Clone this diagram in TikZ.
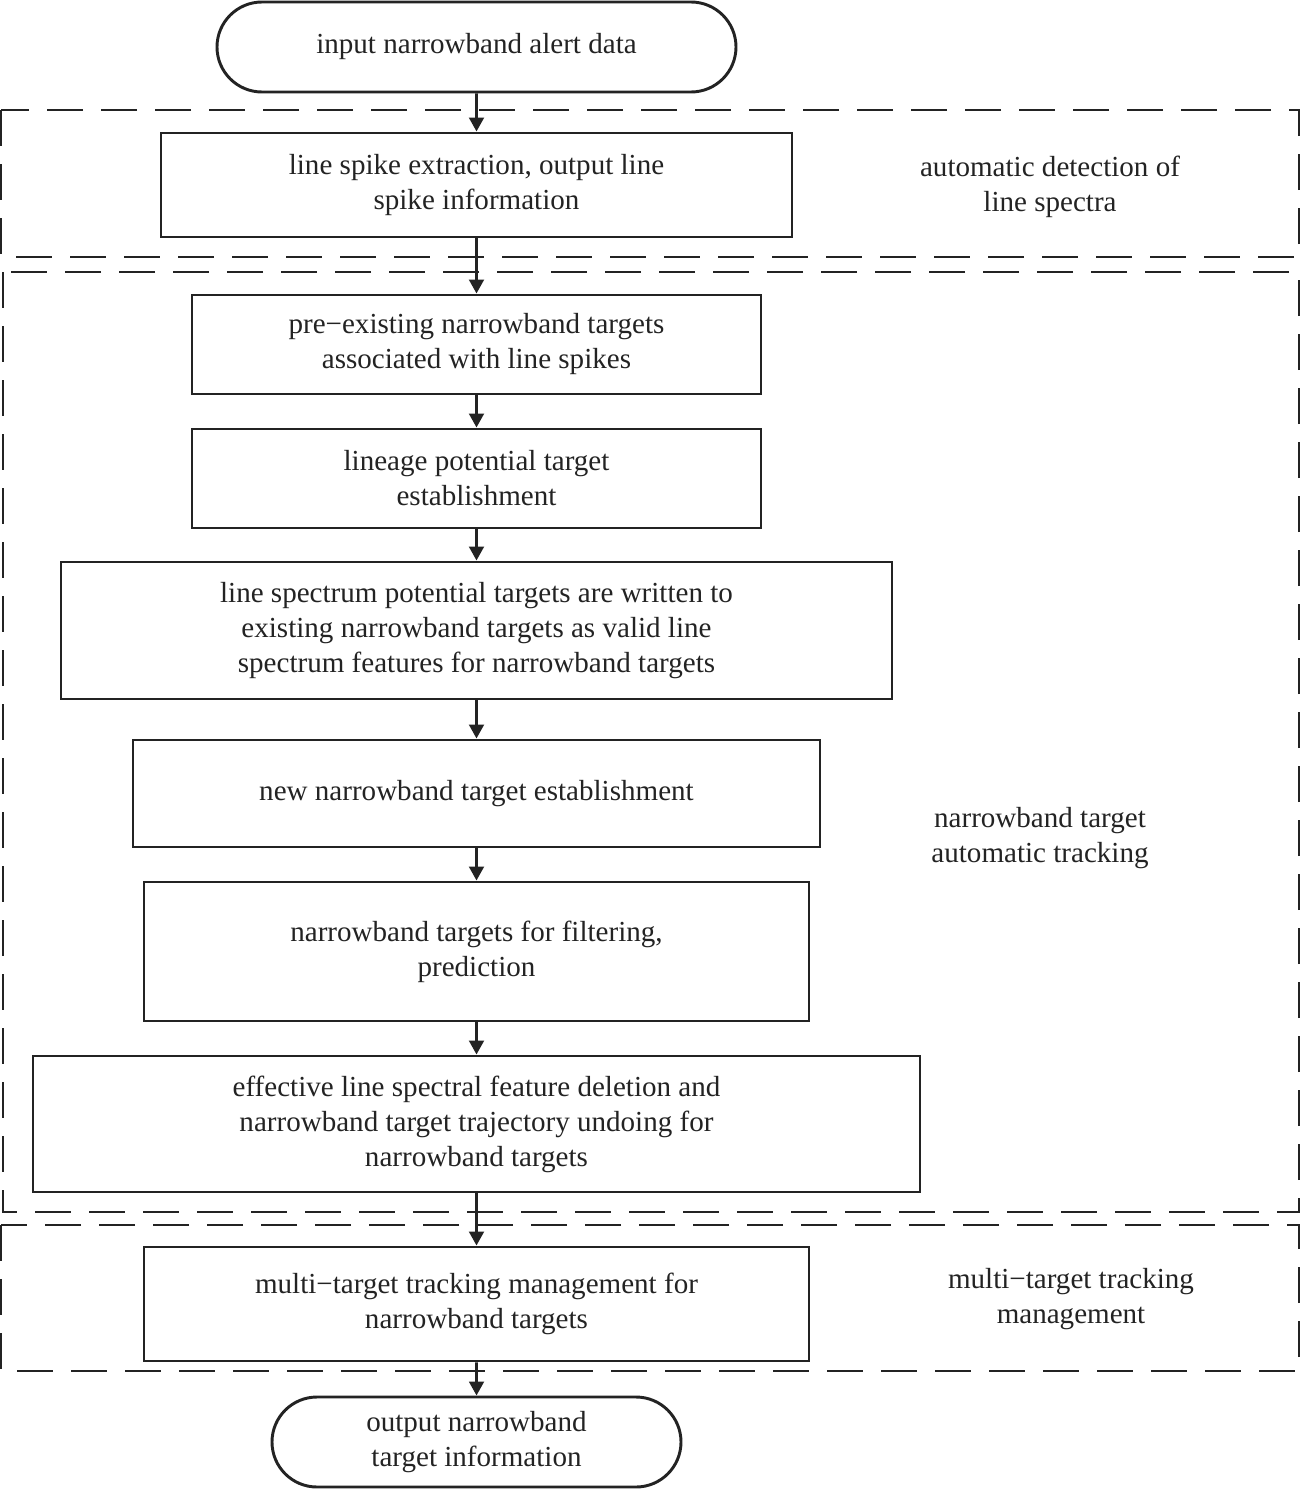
\documentclass[tikz,border=0pt]{standalone}
\usepackage{fontspec}
\setmainfont{Liberation Serif}
\usetikzlibrary{arrows.meta,shapes.misc}
\definecolor{ink}{RGB}{35,35,35}
\begin{document}
\begin{tikzpicture}[x=0.75pt,y=-0.75pt,
  every node/.style={font=\fontsize{21.8}{26.25}\selectfont, text=ink, align=center},
  procbox/.style={draw=ink, line width=2.2pt, rectangle, inner sep=0pt},
  termbox/.style={draw=ink, line width=2.2pt, rounded rectangle, inner sep=0pt},
  frame/.style={draw=ink, line width=2.2pt, dash pattern=on 27pt off 13.5pt},
  flow/.style={draw=ink, line width=2.2pt, -{Triangle[length=10.5pt,width=11pt]}},
  sidelabel/.style={inner sep=0pt}]
\useasboundingbox (0,0) rectangle (1302,1489);
% dashed frames
\draw[frame] (1,110) rectangle (1299,257);
\draw[frame] (3,272) rectangle (1299,1212);
\draw[frame] (1,1225) rectangle (1299,1371);
% nodes
\node[termbox, minimum width=519*0.75pt, minimum height=90*0.75pt] (start) at (476.5,47) {input narrowband alert data};
\node[procbox, minimum width=631*0.75pt, minimum height=104*0.75pt] (b1) at (476.5,185) {line spike extraction, output line\\spike information};
\node[procbox, minimum width=569*0.75pt, minimum height=99*0.75pt] (b2) at (476.5,344.5) {pre−existing narrowband targets\\associated with line spikes};
\node[procbox, minimum width=569*0.75pt, minimum height=99*0.75pt] (b3) at (476.5,478.5) {lineage potential target\\establishment};
\node[procbox, minimum width=831*0.75pt, minimum height=137*0.75pt] (b4) at (476.5,630.5) {line spectrum potential targets are written to\\existing narrowband targets as valid line\\spectrum features for narrowband targets};
\node[procbox, minimum width=687*0.75pt, minimum height=107*0.75pt] (b5) at (476.5,793.5) {new narrowband target establishment};
\node[procbox, minimum width=665*0.75pt, minimum height=139*0.75pt] (b6) at (476.5,951.5) {narrowband targets for filtering,\\prediction};
\node[procbox, minimum width=887*0.75pt, minimum height=136*0.75pt] (b7) at (476.5,1124) {effective line spectral feature deletion and\\narrowband target trajectory undoing for\\narrowband targets};
\node[procbox, minimum width=665*0.75pt, minimum height=114*0.75pt] (b8) at (476.5,1304) {multi−target tracking management for\\narrowband targets};
\node[termbox, minimum width=409*0.75pt, minimum height=90*0.75pt] (end) at (476.5,1442) {output narrowband\\target information};
% side labels
\node[sidelabel] (l1) at (1050,187) {automatic detection of\\line spectra};
\node[sidelabel] (l2) at (1040,838) {narrowband target\\automatic tracking};
\node[sidelabel] (l3) at (1071,1299) {multi−target tracking\\management};
% connectors
\draw[flow] (start) -- (b1);
\draw[flow] (b1) -- (b2);
\draw[flow] (b2) -- (b3);
\draw[flow] (b3) -- (b4);
\draw[flow] (b4) -- (b5);
\draw[flow] (b5) -- (b6);
\draw[flow] (b6) -- (b7);
\draw[flow] (b7) -- (b8);
\draw[flow] (b8) -- (end);
\end{tikzpicture}
\end{document}
